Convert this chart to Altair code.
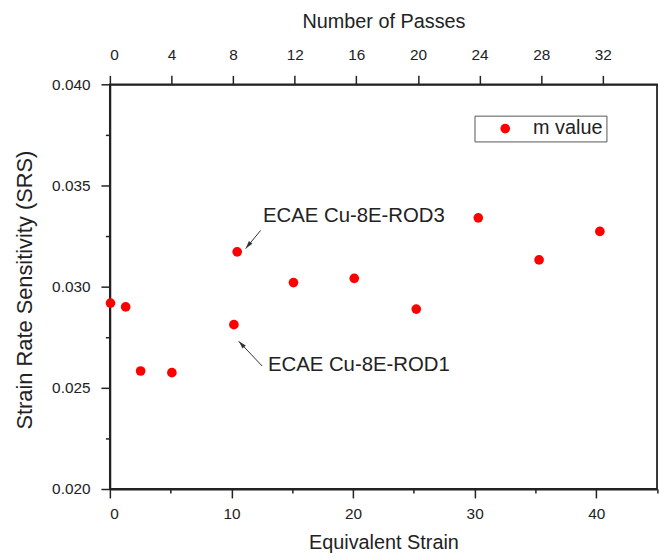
import altair as alt
import pandas as pd

# ---- data ----
strain = [0.05, 1.30, 2.53, 5.10, 10.20, 10.47, 15.10, 20.10, 25.20, 30.30, 35.30, 40.30]
srs = [0.02919, 0.02900, 0.02583, 0.02575, 0.02812, 0.03172,
       0.03020, 0.03041, 0.02889, 0.03340, 0.03132, 0.03273]
series_name = "m value"

strain_ticks = [0, 5, 10, 15, 20, 25, 30, 35, 40, 45]
srs_ticks = [0.020, 0.0225, 0.025, 0.0275, 0.030, 0.0325, 0.035, 0.0375, 0.040]
pass_ticks = [0, 4, 8, 12, 16, 20, 24, 28, 32]

ann_text = ["ECAE Cu-8E-ROD3", "ECAE Cu-8E-ROD1"]
ann_x = [12.59, 13.00]
ann_y = [0.03347, 0.02613]
tail_x = [12.40, 12.52]
tail_y = [0.03278, 0.02608]
head_x = [11.17, 10.60]
head_y = [0.03188, 0.02730]
head_angle = [219, 317]

FONT = "Liberation Sans"
INK = "#222222"

pts = pd.DataFrame({"x": strain, "y": srs, "series": [series_name] * len(strain)})
ann = pd.DataFrame({"x": ann_x, "y": ann_y, "text": ann_text})
arr = pd.DataFrame({"x": tail_x, "y": tail_y, "x2": head_x, "y2": head_y,
                    "hx": head_x, "hy": head_y, "ang": head_angle})
top = pd.DataFrame({"p": pass_ticks})

xscale = alt.Scale(domain=[0, 45], nice=False, zero=False)
yscale = alt.Scale(domain=[0.020, 0.040], nice=False, zero=False)

x_axis = alt.Axis(
    orient="bottom", values=strain_ticks, title="Equivalent Strain",
    labelExpr="datum.value % 10 === 0 ? datum.label : ''",
    tickSize={"condition": {"test": "datum.value % 10 === 0", "value": 9}, "value": 4},
    labelPadding=9, grid=False,
    titleBaseline="middle", titleY=54, titleFontSize=20,
)
y_axis = alt.Axis(
    orient="left", values=srs_ticks, format=".3f", title="Strain Rate Sensitivity (SRS)",
    labelExpr="round(datum.value * 10000) % 50 === 0 ? datum.label : ''",
    tickSize={"condition": {"test": "round(datum.value * 10000) % 50 === 0", "value": 9}, "value": 4.5},
    labelPadding=11, grid=False,
    titleBaseline="middle", titleX=-86, titleY=207, titleFontSize=22,
)
top_axis = alt.Axis(
    orient="top", values=pass_ticks, title="Number of Passes",
    tickSize=9, labelPadding=13, grid=False,
    titleBaseline="middle", titleY=-63, titleFontSize=20,
)

X = lambda f: alt.X(f"{f}:Q", scale=xscale, axis=x_axis)
Y = lambda f: alt.Y(f"{f}:Q", scale=yscale, axis=y_axis)

points = alt.Chart(pts).mark_circle(size=95, opacity=1).encode(
    x=X("x"), y=Y("y"),
    color=alt.Color("series:N",
                    scale=alt.Scale(domain=[series_name], range=["#ff0000"]),
                    legend=alt.Legend(
                        title=None, orient="none", legendX=367.6, legendY=31.6,
                        fillColor="white", strokeColor="#555555", padding=3,
                        symbolOffset=18, labelOffset=18, labelFontSize=20,
                        labelFont=FONT, labelColor=INK, symbolSize=95,
                        symbolType="circle", symbolStrokeWidth=0,
                    )),
)

rules = alt.Chart(arr).mark_rule(color="#333333", strokeWidth=1).encode(
    x=X("x"), y=Y("y"), x2="x2:Q", y2="y2:Q"
)
heads = alt.Chart(arr).mark_point(
    shape="M0,0L-0.45,1.6L0.45,1.6Z", filled=True, color="#333333",
    size=100, opacity=1, strokeWidth=0,
).encode(x=X("hx"), y=Y("hy"), angle=alt.Angle("ang:Q", scale=None))

texts = alt.Chart(ann).mark_text(
    align="left", baseline="middle", fontSize=20.5, font=FONT, color=INK
).encode(x=X("x"), y=Y("y"), text="text:N")

main = alt.layer(points, rules, heads, texts)

passes = alt.Chart(top).mark_point(opacity=0).encode(
    x=alt.X("p:Q", scale=alt.Scale(domain=[0, 35.52], nice=False, zero=False), axis=top_axis)
)

chart = alt.layer(main, passes).resolve_scale(x="independent").properties(
    width=551.6, height=408,
    autosize=alt.AutoSizeParams(type="none"),
    padding={"left": 102.7, "top": 74.7, "right": 2, "bottom": 66},
).configure_view(
    stroke=INK, strokeWidth=1.8
).configure_axis(
    domainColor=INK, domainWidth=1.8, tickColor=INK, tickWidth=1.5,
    labelFont=FONT, labelFontSize=15.5, labelColor=INK,
    titleFont=FONT, titleFontWeight="normal", titleColor=INK,
)

chart.save("out.html", embed_options={"renderer": "svg", "actions": False})
